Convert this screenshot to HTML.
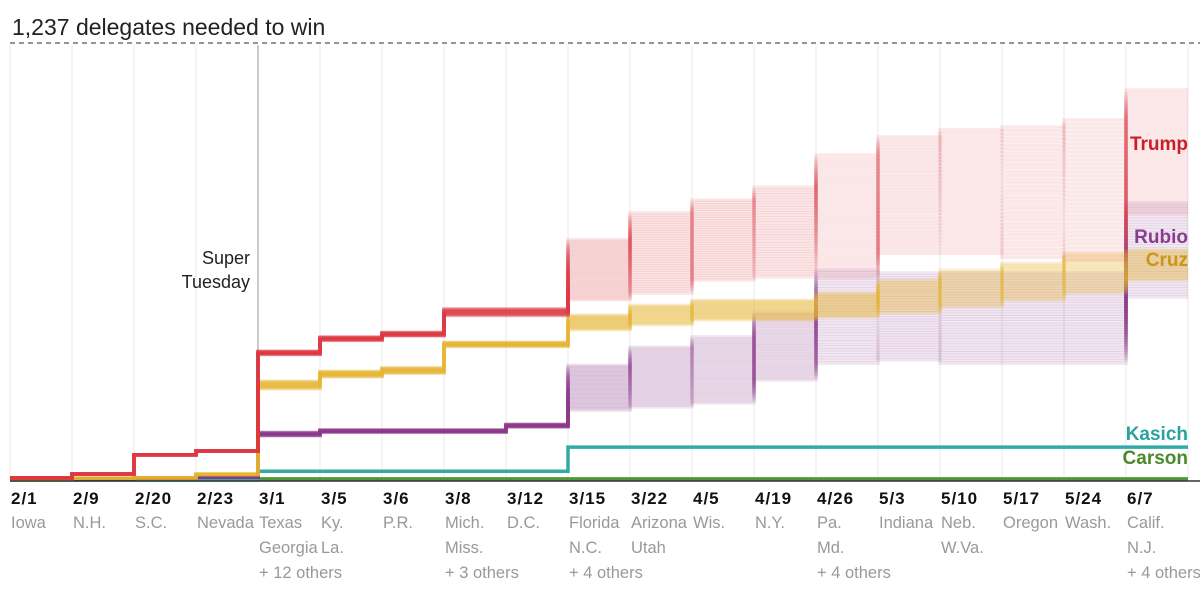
<!DOCTYPE html>
<html><head><meta charset="utf-8">
<style>
html,body{margin:0;padding:0;background:#fff;width:1200px;height:591px;overflow:hidden}
svg{display:block}
text{font-family:"Liberation Sans",sans-serif}
</style></head>
<body>
<svg id="chart" width="1200" height="591" viewBox="0 0 1200 591" xmlns="http://www.w3.org/2000/svg">
<text x="12" y="35" font-size="23" fill="#222">1,237 delegates needed to win</text>
<line x1="10" y1="43" x2="1200" y2="43" stroke="#555" stroke-width="1.2" stroke-dasharray="5,4"/>
<g id="grid"></g>
<g id="series"></g>
<g id="axis"></g>
<text x="250" y="264" font-size="18" fill="#222" text-anchor="end"><tspan x="250">Super</tspan><tspan x="250" dy="24">Tuesday</tspan></text>
<g id="labels"></g>
</svg>
<script>
const dates = ["2/1","2/9","2/20","2/23","3/1","3/5","3/6","3/8","3/12","3/15","3/22","4/5","4/19","4/26","5/3","5/10","5/17","5/24","6/7"];
const states = [["Iowa"],["N.H."],["S.C."],["Nevada"],["Texas","Georgia","+ 12 others"],["Ky.","La."],["P.R."],["Mich.","Miss.","+ 3 others"],["D.C."],["Florida","N.C.","+ 4 others"],["Arizona","Utah"],["Wis."],["N.Y."],["Pa.","Md.","+ 4 others"],["Indiana"],["Neb.","W.Va."],["Oregon"],["Wash."],["Calif.","N.J.","+ 4 others"]];
const trumpLo = [6,17,71,82,355,395,408,465,465,510,529,566,575,575,642,642,631,623,756];
const trumpHi = [6,17,71,82,365,405,418,485,485,680,756,792,829,920,971,991,999,1019,1104];
const cruzLo = [4,5,6,15,258,292,302,378,378,425,439,453,453,461,473,490,509,529,566];
const cruzHi = [4,5,6,17,280,308,318,390,390,467,495,509,509,529,566,594,614,642,651];
const rubioLo = [2,4,5,8,125,135,135,135,150,198,207,218,283,331,340,331,331,331,518];
const rubioHi = [2,4,5,8,135,142,142,142,158,325,376,405,473,594,586,586,586,586,784];
const kasichVals = [0,0,0,0,25,25,25,25,25,93,93,93,93,93,93,93,93,93,93];
const carsonVals = [3,3,3,3,3,3,3,3,3,3,3,3,3,3,3,3,3,3,3];

const NS="http://www.w3.org/2000/svg";
const x0=10, step=62, yBase=480, yTop=43, needed=1237;
const xAt=i=>x0+i*step;
const yAt=v=>yBase-(v/needed)*(yBase-yTop);
function mk(tag,attrs,parent){const e=document.createElementNS(NS,tag);for(const k in attrs)e.setAttribute(k,attrs[k]);parent.appendChild(e);return e;}

const grid=document.getElementById('grid');
for(let i=0;i<dates.length;i++){
  const l=mk('line',{x1:xAt(i),x2:xAt(i),y1:45,y2:yBase,stroke:i===4?'#ccc':'#e8e8e8','stroke-width':i===4?2:1},grid);
  
  
}
mk('line',{x1:1188,x2:1188,y1:45,y2:yBase,stroke:'#e8e8e8','stroke-width':1},grid);

const series=document.getElementById('series');
function band(lo,hi,color,n,op,name){
  const g=mk('g',{},series);
  
  
  for(let k=0;k<n;k++){
    const f=n===1?0.5:k/(n-1);
    let d='';
    for(let i=0;i<lo.length;i++){
      const v=lo[i]+f*(hi[i]-lo[i]);
      const y=yAt(v).toFixed(1);
      d+=(i===0?'M':'L')+xAt(i)+','+y+'L'+(i===lo.length-1?1188:xAt(i+1))+','+y;
    }
    mk('path',{d:d,fill:'none',stroke:color,'stroke-width':3.5,'stroke-opacity':op},g);
  }
}
band(carsonVals,carsonVals,'#4f9a36',1,1,'carson-line');
band(kasichVals,kasichVals,'#33aaa5',1,1,'kasich-line');
band(rubioLo,rubioHi,'#8a3d8f',36,0.12,'rubio-band');
band(cruzLo,cruzHi,'#e8b830',36,0.12,'cruz-band');
band(trumpLo,trumpHi,'#e0393f',36,0.12,'trump-band');

const axis=document.getElementById('axis');
mk('line',{x1:10,x2:1200,y1:yBase+1,y2:yBase+1,stroke:'#333','stroke-width':1.5},axis);
for(let i=0;i<dates.length;i++){
  const t=mk('text',{x:xAt(i)+1,y:504,'font-size':17,'font-weight':'bold',fill:'#111','letter-spacing':'1'},axis);
  t.textContent=dates[i];
  
  
  states[i].forEach((s,j)=>{
    const st=mk('text',{x:xAt(i)+1,y:528+j*25,'font-size':16.5,fill:'#999'},axis);
    st.textContent=s;
    
    
  });
}

const labels=document.getElementById('labels');
[["Trump",150,'#c8202a'],["Rubio",243,'#8a3d8f'],["Cruz",266,'#c9961a'],["Kasich",440,'#2aa39e'],["Carson",464,'#4a8a2a']].forEach(c=>{
  const t=mk('text',{x:1188,y:c[1],'font-size':19,'font-weight':'bold',fill:c[2],'text-anchor':'end'},labels);
  t.textContent=c[0];
  
  
});
</script>
</body></html>
